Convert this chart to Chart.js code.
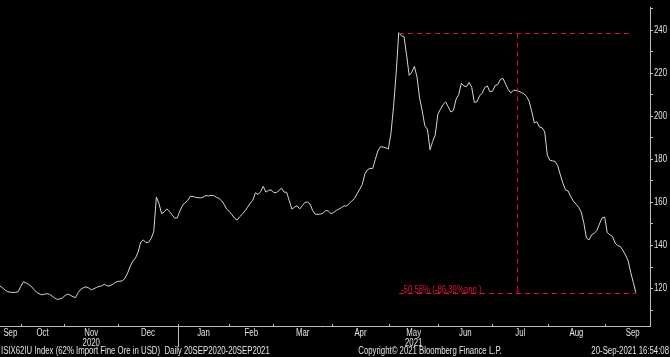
<!DOCTYPE html>
<html><head><meta charset="utf-8">
<script src="https://cdn.jsdelivr.net/npm/chart.js@4/dist/chart.umd.min.js"></script>
<style>html,body{margin:0;padding:0;background:#000;}canvas{display:block;}</style>
</head><body>
<canvas id="c" width="670" height="357"></canvas>
<script>
// ISIX62IU Index daily closes (trading-day order), 21 Sep 2020 .. 20 Sep 2021
const prices = [
121.2,120.3,119.2,118.5,118.3,118.2,118.2,118.6,121.0,123.2,
122.6,121.9,121.0,119.6,118.3,117.6,117.1,117.4,117.6,117.3,
116.5,115.6,114.9,115.2,115.7,116.8,117.4,116.9,116.2,115.8,
118.1,119.7,120.4,120.8,120.3,119.4,119.9,120.5,121.0,121.2,
122.0,121.3,121.2,121.8,122.6,123.3,123.4,123.6,124.9,127.3,
130.5,132.8,134.2,136.9,141.6,142.6,141.3,141.5,143.2,146.5,
162.5,159.5,154.8,155.6,157.0,155.8,154.3,152.7,152.8,156.0,
158.5,159.9,160.9,162.8,162.8,162.4,162.2,162.1,162.5,163.2,
163.0,163.3,163.2,162.4,161.9,160.8,159.1,156.8,155.8,154.3,
152.7,151.8,153.4,154.6,156.1,157.8,159.6,161.0,164.5,163.7,
165.0,167.5,164.8,165.6,165.8,164.7,164.5,165.5,166.6,164.8,
164.7,160.8,156.9,157.8,158.5,157.0,158.5,160.0,160.2,159.2,
156.1,154.5,154.5,154.6,155.0,156.3,156.0,154.8,155.3,156.3,
156.9,157.6,158.4,158.4,159.5,160.7,161.8,164.0,166.1,168.4,
173.2,175.2,175.8,175.8,180.0,184.0,185.9,185.7,185.4,184.8,
192.0,204.5,220.0,238.9,237.4,237.1,228.6,219.0,220.5,223.2,
218.3,208.5,202.6,195.6,194.0,184.5,188.3,191.3,201.0,203.3,
205.5,206.7,204.4,202.0,202.8,208.0,210.0,215.4,214.1,213.8,
215.8,213.5,206.5,206.8,209.5,210.8,213.4,214.1,211.4,211.7,
214.4,214.7,217.2,217.6,215.0,212.4,210.9,212.1,212.1,211.7,
211.1,210.5,209.3,207.1,202.4,197.0,197.5,195.0,194.7,192.8,
182.0,179.6,179.3,179.1,177.0,172.8,168.9,165.8,165.3,162.7,
160.6,159.2,157.8,155.6,150.5,143.5,142.6,145.0,145.6,147.0,
150.0,152.8,153.2,146.0,145.0,144.2,141.2,139.9,139.6,137.7,
135.6,133.0,127.5,122.8,118.07
];
// month boundaries (in trading-day index units) and names
const monthNames = ['Sep','Oct','Nov','Dec','Jan','Feb','Mar','Apr','May','Jun','Jul','Aug','Sep'];
const monthStarts = [7.94,24.67,45.38,68.17,87.97,104.85,127.37,149.24,168.2,188.87,210.35,231.99];
const yearLabels = [{text:'2020', month:2},{text:'2021', month:8}];
const yearBreakMonth = 4; // Jan
const yTicks = [110,120,130,140,150,160,170,180,190,200,210,220,230,240,250];
const yLabelStep = 20;
const changeLabel = '-50.58% (-86.39%ann.)';
const footerLeft = 'ISIX62IU Index (62% Import Fine Ore in USD)  Daily 20SEP2020-20SEP2021';
const footerMid = 'Copyright\u00A9 2021 Bloomberg Finance L.P.';
const footerRight = '20-Sep-2021 16:54:08';

const FONT = '"Liberation Sans",Arial,sans-serif';
const SQ = 0.78; // horizontal condensing of the terminal font
const RED = 'rgb(220,16,52)';
const AXIS = '#bdbdbd';
const TXT = '#e4e4e4';

let peakIdx = 0;
prices.forEach((v,i)=>{ if (v > prices[peakIdx]) peakIdx = i; });
const endIdx = prices.length - 1;

function ntext(c, s, x, y, align){
  c.save(); c.translate(x, y); c.scale(SQ, 1); c.textAlign = align; c.fillText(s, 0, 0); c.restore();
}

const overlay = {
  id:'overlay',
  afterDraw(chart){
    const c = chart.ctx, xs = chart.scales.x, ys = chart.scales.y, a = chart.chartArea;
    c.save();
    // x axis ticks (pointing up)
    c.strokeStyle = AXIS; c.lineWidth = 1;
    monthStarts.forEach(m=>{
      const px = Math.round(xs.getPixelForValue(m)) + 0.5;
      c.beginPath(); c.moveTo(px, a.bottom); c.lineTo(px, a.bottom - 2); c.stroke();
    });
    // year separator
    const yb = Math.round(xs.getPixelForValue(monthStarts[yearBreakMonth-1])) + 0.5;
    c.beginPath(); c.moveTo(yb, a.bottom); c.lineTo(yb, a.bottom + 21); c.stroke();
    // month labels
    const bounds = [0, ...monthStarts, 253.5];
    c.fillStyle = TXT;
    c.font = '10px ' + FONT;
    c.textBaseline = 'middle';
    monthNames.forEach((n,i)=>{
      ntext(c, n, xs.getPixelForValue((bounds[i]+bounds[i+1])/2), a.bottom + 7.5, 'center');
    });
    yearLabels.forEach(y=>{
      ntext(c, y.text, xs.getPixelForValue((bounds[y.month]+bounds[y.month+1])/2), a.bottom + 17, 'center');
    });
    // y labels
    yTicks.filter(v => v % yLabelStep === 0).forEach(v=>{
      ntext(c, String(v), a.right + 4, ys.getPixelForValue(v), 'left');
    });
    // footer
    ntext(c, footerLeft, 1, 351.5, 'left');
    ntext(c, footerMid, 430, 351.5, 'center');
    ntext(c, footerRight, 669, 351.5, 'right');

    // change annotation
    const x1 = Math.round(xs.getPixelForValue(peakIdx)), x2 = Math.round(xs.getPixelForValue(endIdx));
    const yTop = Math.round(ys.getPixelForValue(prices[peakIdx])) + 0.5;
    const yBot = Math.round(ys.getPixelForValue(prices[endIdx])) + 0.5;
    const xm = Math.round(xs.getPixelForValue((peakIdx+endIdx)/2)) + 0.5;
    c.strokeStyle = RED; c.lineWidth = 1; c.setLineDash([5,4]);
    c.beginPath(); c.moveTo(x1, yTop); c.lineTo(x2 - 3, yTop); c.stroke();
    c.beginPath(); c.moveTo(x1, yBot); c.lineTo(x2, yBot); c.stroke();
    c.beginPath(); c.moveTo(xm, yTop); c.lineTo(xm, yBot - 4); c.stroke();
    c.setLineDash([]);
    c.beginPath(); c.moveTo(xm - 2, yBot - 3); c.lineTo(xm, yBot - 1); c.lineTo(xm + 1, yBot - 4); c.stroke();
    c.fillStyle = RED; c.font = '10px ' + FONT;
    c.textBaseline = 'alphabetic';
    ntext(c, changeLabel, x1 + 2, yBot - 1, 'left');
    c.restore();
  }
};

new Chart(document.getElementById('c'), {
  type:'line',
  data:{ datasets:[{
    data: prices.map((v,i)=>({x:i, y:v})),
    borderColor:'#d6d6d6', borderWidth:1, pointRadius:0, tension:0, fill:false
  }]},
  options:{
    responsive:false, animation:false, devicePixelRatio:1,
    layout:{padding:0},
    plugins:{legend:{display:false}, tooltip:{enabled:false}},
    scales:{
      x:{type:'linear', min:0, max:249.4,
        grid:{display:false, drawTicks:false},
        border:{display:true, color:AXIS, width:1},
        ticks:{display:false},
        afterFit(s){ s.height = 31; }
      },
      y:{position:'right', min:102.6, max:250.8,
        afterBuildTicks(s){ s.ticks = yTicks.map(v=>({value:v})); },
        grid:{drawOnChartArea:false, drawTicks:true, tickLength:3, color:AXIS},
        border:{display:true, color:AXIS, width:1},
        ticks:{color:TXT, padding:1, autoSkip:false, maxRotation:0,
          font:{family:FONT, size:10},
          callback:()=>''},
        afterFit(s){ s.width = 20; }
      }
    }
  },
  plugins:[overlay]
});
</script>
</body></html>
